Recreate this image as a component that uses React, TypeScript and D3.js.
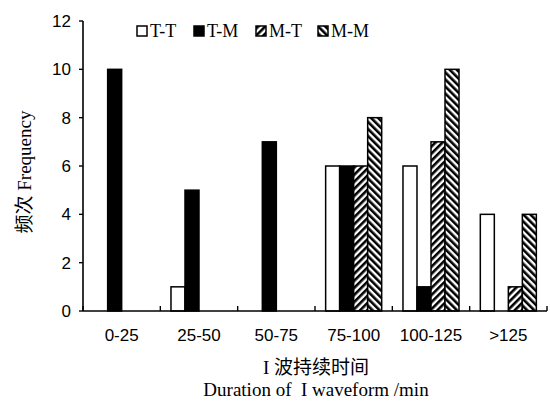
import React from 'react';
import * as d3 from 'd3';

// categories and series values
const categories = ['0-25', '25-50', '50-75', '75-100', '100-125', '>125'];
const seriesNames = ['T-T', 'T-M', 'M-T', 'M-M'];
const valuesTT = [0, 1, 0, 6, 6, 4];
const valuesTM = [10, 5, 7, 6, 1, 0];
const valuesMT = [0, 0, 0, 6, 7, 1];
const valuesMM = [0, 0, 0, 8, 10, 4];
const yTicks = [0, 2, 4, 6, 8, 10, 12];

const seriesValues = [valuesTT, valuesTM, valuesMT, valuesMM];

const WIDTH = 550;
const HEIGHT = 402;
const margin = { top: 21, right: 3, bottom: 91, left: 83 };

const serif = '"Liberation Serif", "Times New Roman", serif';
const sans = '"Liberation Sans", Arial, sans-serif';
const cjk = '"Noto Sans CJK SC", sans-serif';

const fillFor = (i: number) => {
  if (i === 0) return '#ffffff';
  if (i === 1) return '#000000';
  if (i === 2) return 'url(#hatchUp)';
  return 'url(#hatchDown)';
};

export default function App() {
  const innerW = WIDTH - margin.left - margin.right;
  const innerH = HEIGHT - margin.top - margin.bottom;

  const x = d3.scaleBand<string>()
    .domain(categories)
    .range([margin.left, margin.left + innerW])
    .paddingInner(0)
    .paddingOuter(0);

  const xSub = d3.scaleBand<string>()
    .domain(seriesNames)
    .range([0, x.bandwidth()])
    .paddingInner(0)
    .paddingOuter(0.76);

  const y = d3.scaleLinear()
    .domain([0, 12])
    .range([margin.top + innerH, margin.top]);

  const y0 = y(0);
  const xTickPositions = categories.map(c => x(c) as number).concat([margin.left + innerW]);

  // legend layout
  const legendItems = [
    { name: 'T-T', box: 137 },
    { name: 'T-M', box: 194 },
    { name: 'M-T', box: 256 },
    { name: 'M-M', box: 318 },
  ];

  return (
    <div style={{ position: 'fixed', left: 0, top: 0 }}>
      <svg width={WIDTH} height={HEIGHT} style={{ display: 'block', background: '#fff' }}>
        <defs>
          <pattern id="hatchUp" patternUnits="userSpaceOnUse" width={5} height={5} patternTransform="rotate(45)">
            <rect width={5} height={5} fill="#fff" />
            <rect width={2.6} height={5} fill="#000" />
          </pattern>
          <pattern id="hatchDown" patternUnits="userSpaceOnUse" width={5} height={5} patternTransform="rotate(-45)">
            <rect width={5} height={5} fill="#fff" />
            <rect width={2.6} height={5} fill="#000" />
          </pattern>
        </defs>

        {/* bars */}
        {categories.map((c, ci) => (
          <g key={c} transform={`translate(${x(c)},0)`}>
            {seriesNames.map((s, si) => {
              const v = seriesValues[si][ci];
              if (v === 0) return null;
              return (
                <rect
                  key={s}
                  x={xSub(s)}
                  y={y(v)}
                  width={xSub.bandwidth()}
                  height={y0 - y(v)}
                  fill={fillFor(si)}
                  stroke="#000"
                  strokeWidth={1.5}
                />
              );
            })}
          </g>
        ))}

        {/* y axis */}
        <line x1={margin.left} x2={margin.left} y1={margin.top} y2={y0} stroke="#000" strokeWidth={1.6} />
        {yTicks.map(t => (
          <g key={t}>
            <line x1={margin.left - 4} x2={margin.left} y1={y(t)} y2={y(t)} stroke="#000" strokeWidth={1.4} />
            <text x={margin.left - 12} y={y(t)} dy="0.36em" textAnchor="end" fontFamily={sans} fontSize={17} fill="#000">{t}</text>
          </g>
        ))}

        {/* x axis */}
        <line x1={margin.left} x2={margin.left + innerW} y1={y0} y2={y0} stroke="#000" strokeWidth={1.6} />
        {xTickPositions.map((p, i) => (
          <line key={i} x1={p} x2={p} y1={y0} y2={y0 - 5} stroke="#000" strokeWidth={1.4} />
        ))}
        {categories.map(c => (
          <text key={c} x={(x(c) as number) + x.bandwidth() / 2} y={335} dy="0.36em" textAnchor="middle" fontFamily={sans} fontSize={17} fill="#000">{c}</text>
        ))}

        {/* axis titles */}
        <text x={316} y={367} dy="0.36em" textAnchor="middle" fontSize={19} fill="#000">
          <tspan fontFamily={serif}>I </tspan>
          <tspan fontFamily={cjk}>波持续时间</tspan>
        </text>
        <text x={316} y={389} dy="0.36em" textAnchor="middle" fontFamily={serif} fontSize={19} fill="#000" style={{ whiteSpace: 'pre' }}>
          {'Duration of  I waveform /min'}
        </text>
        <text transform="translate(24,172) rotate(-90)" textAnchor="middle" dy="0.36em" fontSize={19} fill="#000">
          <tspan fontFamily={cjk}>频次</tspan>
          <tspan fontFamily={serif}> Frequency</tspan>
        </text>

        {/* legend */}
        {legendItems.map((l, i) => (
          <g key={l.name}>
            <rect x={l.box} y={26} width={10} height={10} fill={fillFor(i)} stroke="#000" strokeWidth={1.5} />
            <text x={l.box + 13} y={31} dy="0.36em" fontFamily={serif} fontSize={18} fill="#000">{l.name}</text>
          </g>
        ))}
      </svg>
    </div>
  );
}
